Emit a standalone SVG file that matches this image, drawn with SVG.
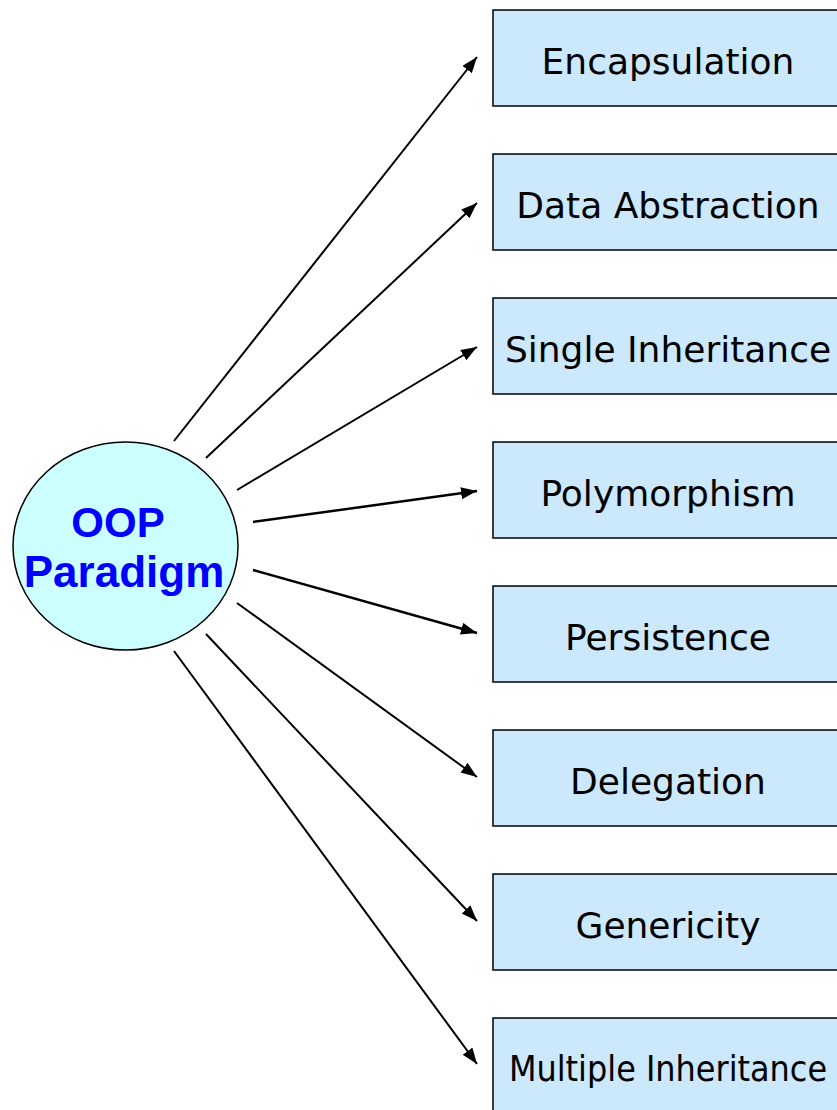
<svg xmlns="http://www.w3.org/2000/svg" width="837" height="1110" viewBox="0 0 837 1110">
<style>
.box rect{fill:#CCE8FC;stroke:#000;stroke-width:1.5}
.box text{font-family:"DejaVu Sans",Verdana,sans-serif;font-size:36px;fill:#000;text-anchor:middle}
.conn line{stroke:#000;stroke-width:2;marker-end:url(#ah)}
.hub text{font-family:"Liberation Sans",Arial,sans-serif;font-weight:bold;font-size:42px;fill:#0000FF;text-anchor:middle}
</style>
<defs>
<marker id="ah" markerUnits="userSpaceOnUse" markerWidth="17" markerHeight="13" refX="16" refY="6" orient="auto">
<path d="M0,0 L16,6 L0,12 z" fill="#000"/>
</marker>
</defs>
<g id="connectors" class="conn">
<line x1="174" y1="441" x2="477" y2="57"/>
<line x1="206" y1="458" x2="477" y2="203"/>
<line x1="237" y1="490" x2="477" y2="347"/>
<line x1="253" y1="522" x2="477" y2="491" style="stroke-width:2.5"/>
<line x1="253" y1="570" x2="477" y2="633" style="stroke-width:2.5"/>
<line x1="237" y1="603" x2="477" y2="777"/>
<line x1="206" y1="634" x2="477" y2="921"/>
<line x1="174" y1="651" x2="477" y2="1064"/>
</g>
<g id="oop-paradigm" class="hub">
<ellipse cx="125.5" cy="546" rx="112.5" ry="104" fill="#CCFFFF" stroke="#000" stroke-width="1.5"/>
<text x="118" y="537">OOP</text>
<text x="124" y="587" style="font-size:44px">Paradigm</text>
</g>
<g id="encapsulation" class="box"><rect x="493" y="10" width="360" height="96"/><text x="668" y="74">Encapsulation</text></g>
<g id="data-abstraction" class="box"><rect x="493" y="154" width="360" height="96"/><text x="668" y="218">Data Abstraction</text></g>
<g id="single-inheritance" class="box"><rect x="493" y="298" width="360" height="96"/><text x="668" y="362">Single Inheritance</text></g>
<g id="polymorphism" class="box"><rect x="493" y="442" width="360" height="96"/><text x="668" y="506">Polymorphism</text></g>
<g id="persistence" class="box"><rect x="493" y="586" width="360" height="96"/><text x="668" y="650">Persistence</text></g>
<g id="delegation" class="box"><rect x="493" y="730" width="360" height="96"/><text x="668" y="794">Delegation</text></g>
<g id="genericity" class="box"><rect x="493" y="874" width="360" height="96"/><text x="668" y="938">Genericity</text></g>
<g id="multiple-inheritance" class="box"><rect x="493" y="1018" width="360" height="96"/><text x="668" y="1081" style="font-family:'DejaVu Sans Condensed','DejaVu Sans',sans-serif;font-stretch:condensed;font-size:35.5px">Multiple Inheritance</text></g>
</svg>
